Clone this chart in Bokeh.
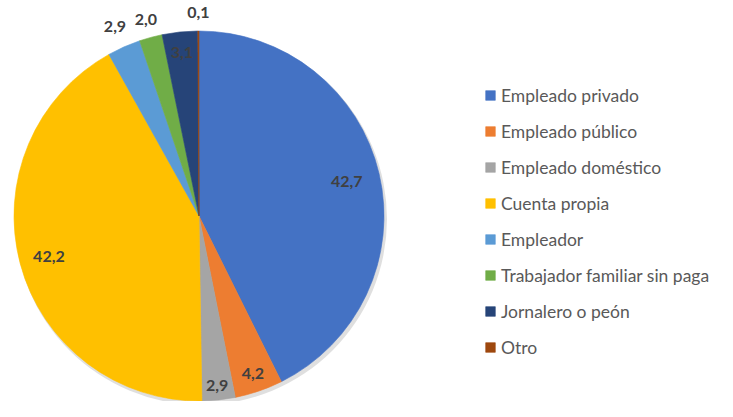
import numpy as np
from bokeh.plotting import figure
from bokeh.models import Range1d, Legend, LegendItem, ColumnDataSource
from bokeh.core.properties import value
from bokeh.embed import file_html
from bokeh.resources import INLINE

categories = ["Empleado privado", "Empleado público", "Empleado doméstico", "Cuenta propia",
              "Empleador", "Trabajador familiar sin paga", "Jornalero o peón", "Otro"]
values = [42.7, 4.2, 2.9, 42.2, 2.9, 2.0, 3.1, 0.1]
value_labels = ["42,7", "4,2", "2,9", "42,2", "2,9", "2,0", "3,1", "0,1"]
colors = ["#4472C4", "#ED7D31", "#A5A5A5", "#FFC000", "#5B9BD5", "#70AD47", "#264478", "#9E480E"]
label_radius = [0.82, 0.90, 0.92, 0.84, 1.12, 1.10, 0.89, 1.10]

W, H = 717, 401
# data units = picture pixels (x from left, y = 417 - row)
p = figure(width=W, height=H, output_backend="svg", toolbar_location=None,
           x_range=Range1d(0, W), y_range=Range1d(16, 16 + H), min_border=0,
           x_axis_location=None, y_axis_location=None, outline_line_color=None)
p.grid.visible = False

cx, cy, R = 198.5, 201.5, 185.0
vals = np.array(values)
total = vals.sum()
cum = np.cumsum(vals)
before = cum - vals
start = np.pi / 2 - 2 * np.pi * before / total
end = np.pi / 2 - 2 * np.pi * cum / total
mid = (start + end) / 2
lr = np.array(label_radius)

src = ColumnDataSource(dict(
    cat=categories, start=start, end=end, color=colors,
    lx=cx + lr * R * np.cos(mid), ly=cy + lr * R * np.sin(mid), txt=value_labels,
))

# soft shadow
p.circle(x=[cx + 2], y=[cy - 3], radius=R + 1, fill_color="#7f7f7f", fill_alpha=0.25, line_color=None)

wedges = p.wedge(x=cx, y=cy, radius=R, start_angle="start", end_angle="end", direction="clock",
                 fill_color="color", line_color="color", line_width=0.6, source=src)

p.text(x="lx", y="ly", text="txt", source=src, text_align="center", text_baseline="middle",
       text_font=value("Lato"), text_font_style="bold", text_font_size="16px", text_color="#404040")

items = [LegendItem(label=c, renderers=[wedges], index=i) for i, c in enumerate(categories)]
legend = Legend(items=items, location=(484, 42), glyph_width=12, glyph_height=12,
                label_standoff=5, spacing=12, label_height=24, padding=0, margin=0,
                border_line_color=None, background_fill_alpha=0,
                label_text_font="Lato", label_text_font_size="17.5px", label_text_color="#595959")
p.add_layout(legend)

open("out.html", "w").write(file_html(p, INLINE))
